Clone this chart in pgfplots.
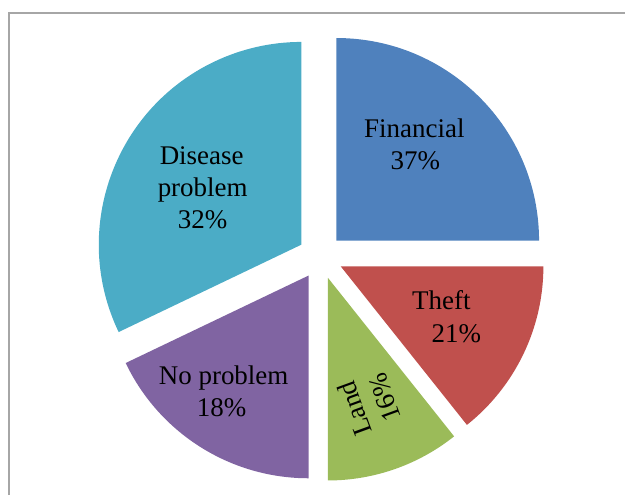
\documentclass[border=0pt]{standalone}
\usepackage{pgfplots}
\pgfplotsset{compat=1.18}
\usepackage{pgfplotstable}
\usetikzlibrary{calc}
\usepackage{fontspec}
\setmainfont{Liberation Serif}

\definecolor{cFin}{HTML}{4F81BD}
\definecolor{cThe}{HTML}{C0504D}
\definecolor{cLan}{HTML}{9BBB59}
\definecolor{cNop}{HTML}{8064A2}
\definecolor{cDis}{HTML}{4BACC6}
\definecolor{cFrame}{HTML}{A6A6A6}

% slice shares (clockwise from 12 o'clock)
\pgfplotstableread{
slice value
Financial 25.0
Theft 14.3
Land 10.7
Noproblem 17.9
Disease 32.1
}\piedata

\newcommand\slice[3]{%
  \pgfmathsetmacro\midang{(#1+#2)/2}%
  \edef\tmp{\noexpand\fill[#3] ($(axis cs:321,239)+(\midang:22.5pt)$) -- ++(#1:203pt) arc[start angle=#1, end angle=#2, radius=203pt] -- cycle;}%
  \tmp}

\begin{document}
\begin{tikzpicture}
\pgfplotstablegetelem{0}{value}\of\piedata\edef\vA{\pgfplotsretval}
\pgfplotstablegetelem{1}{value}\of\piedata\edef\vB{\pgfplotsretval}
\pgfplotstablegetelem{2}{value}\of\piedata\edef\vC{\pgfplotsretval}
\pgfplotstablegetelem{3}{value}\of\piedata\edef\vD{\pgfplotsretval}
\pgfplotstablegetelem{4}{value}\of\piedata\edef\vE{\pgfplotsretval}
\pgfmathsetmacro\tot{\vA+\vB+\vC+\vD+\vE}
\pgfmathsetmacro\aA{90}
\pgfmathsetmacro\aB{\aA-360*\vA/\tot}
\pgfmathsetmacro\aC{\aB-360*\vB/\tot}
\pgfmathsetmacro\aD{\aC-360*\vC/\tot}
\pgfmathsetmacro\aE{\aD-360*\vD/\tot}
\pgfmathsetmacro\aF{\aE-360*\vE/\tot}
\begin{axis}[
  at={(0,0)}, anchor=south west,
  scale only axis, width=626pt, height=496pt,
  xmin=0, xmax=626, ymin=0, ymax=496,
  hide axis, clip=false,
]
\path (axis cs:0,0) rectangle (axis cs:626,496);
\draw[cFrame, line width=2pt] (axis cs:9,0) -- (axis cs:9,483) -- (axis cs:626,483);
\slice{\aA}{\aB}{cFin}
\slice{\aB}{\aC}{cThe}
\slice{\aC}{\aD}{cLan}
\slice{\aD}{\aE}{cNop}
\slice{\aE}{\aF}{cDis}
\tikzset{lbl/.style={anchor=base, inner sep=0pt, font=\fontsize{27}{32}\selectfont}}
\node[lbl] at (axis cs:415,358) {Financial};
\node[lbl] at (axis cs:416,326) {37\%};
\node[lbl] at (axis cs:442,186) {Theft};
\node[lbl] at (axis cs:457,153) {21\%};
\node[lbl] at (axis cs:202,331) {Disease};
\node[lbl] at (axis cs:203,299) {problem};
\node[lbl] at (axis cs:203,267) {32\%};
\node[lbl] at (axis cs:224,111) {No problem};
\node[lbl] at (axis cs:222,79) {18\%};
\node[inner sep=0pt, align=center, rotate=110, font=\fontsize{27}{32}\selectfont] at (axis cs:370,92) {Land\\16\%};
\end{axis}
\end{tikzpicture}
\end{document}
